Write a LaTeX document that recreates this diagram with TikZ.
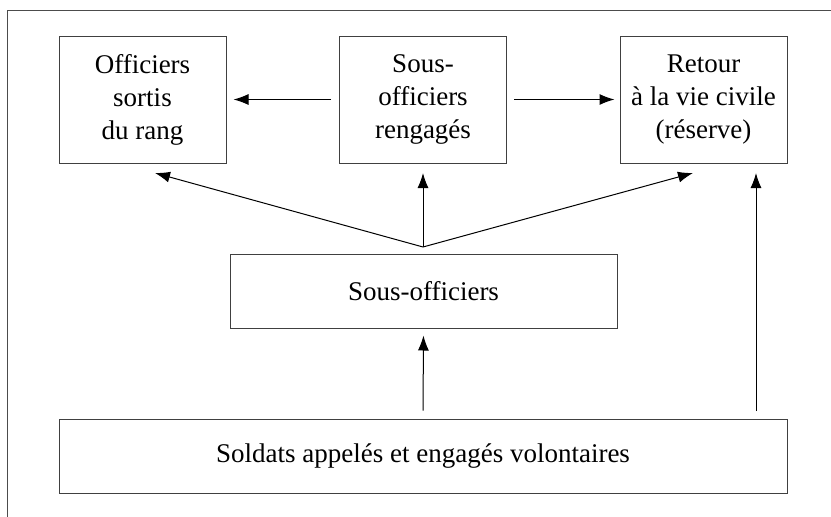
\documentclass[tikz,border=0pt]{standalone}
\usepackage{fontspec}
\setmainfont{Liberation Serif}
\usetikzlibrary{arrows.meta,calc}

\tikzstyle{box}=[draw=black!75, line width=1pt, align=center, inner sep=0pt,
  font=\fontsize{27}{33}\selectfont]
\tikzstyle{small box}=[box, minimum width=167pt, minimum height=127pt]
\tikzstyle{wide box}=[box, minimum height=74pt]
\tikzstyle{arrow}=[draw, line width=1pt, -{Latex[length=15pt,width=11pt]}]
\tikzstyle{frame}=[draw=black!70, line width=1pt]

\begin{document}
\begin{tikzpicture}[x=1pt, y=-1pt]
  \useasboundingbox (0,0) rectangle (831,517);
  % partial frame round the figure
  \draw[frame] (831,10) -- (7,10) -- (7,517);

  % upper row
  \node[small box] (offi) at (142.5,99.5) {Officiers\\sortis\\du rang};
  \node[small box] (rengag) at (423,99.5) {Sous-\\officiers\\rengagés};
  \node[small box] (retour) at (703.5,99.5) {Retour\\à la vie civile\\(réserve)};

  % middle and bottom
  \node[wide box, minimum width=387pt] (sousoff) at (423.5,291) {Sous-officiers};
  \node[wide box, minimum width=728pt] (soldats) at (423,456) {Soldats appelés et engagés volontaires};

  % ends of the arrows
  \coordinate (fork) at (423,247);
  \foreach \x/\y/\name in {155/173/toOffi, 423/173/toRengag, 693/173/toRetour,
      756/173/upTop, 756/411/upBottom}
    \coordinate (\name) at (\x,\y);

  % side arrows from the rengages
  \path[arrow, shorten <=8pt, shorten >=7pt] (rengag.west) -- (offi.east);
  \path[arrow, shorten <=7pt, shorten >=5pt] (rengag.east) -- (retour.west);

  % from the sous-officiers upwards
  \foreach \dest in {toOffi, toRengag, toRetour}
    \path[arrow] (fork) -- (\dest);

  % from the soldats upwards
  \path[arrow, shorten <=8pt, shorten >=7pt] (soldats.north) -- (sousoff.south);
  \path[arrow] (upBottom) -- (upTop);
\end{tikzpicture}
\end{document}
